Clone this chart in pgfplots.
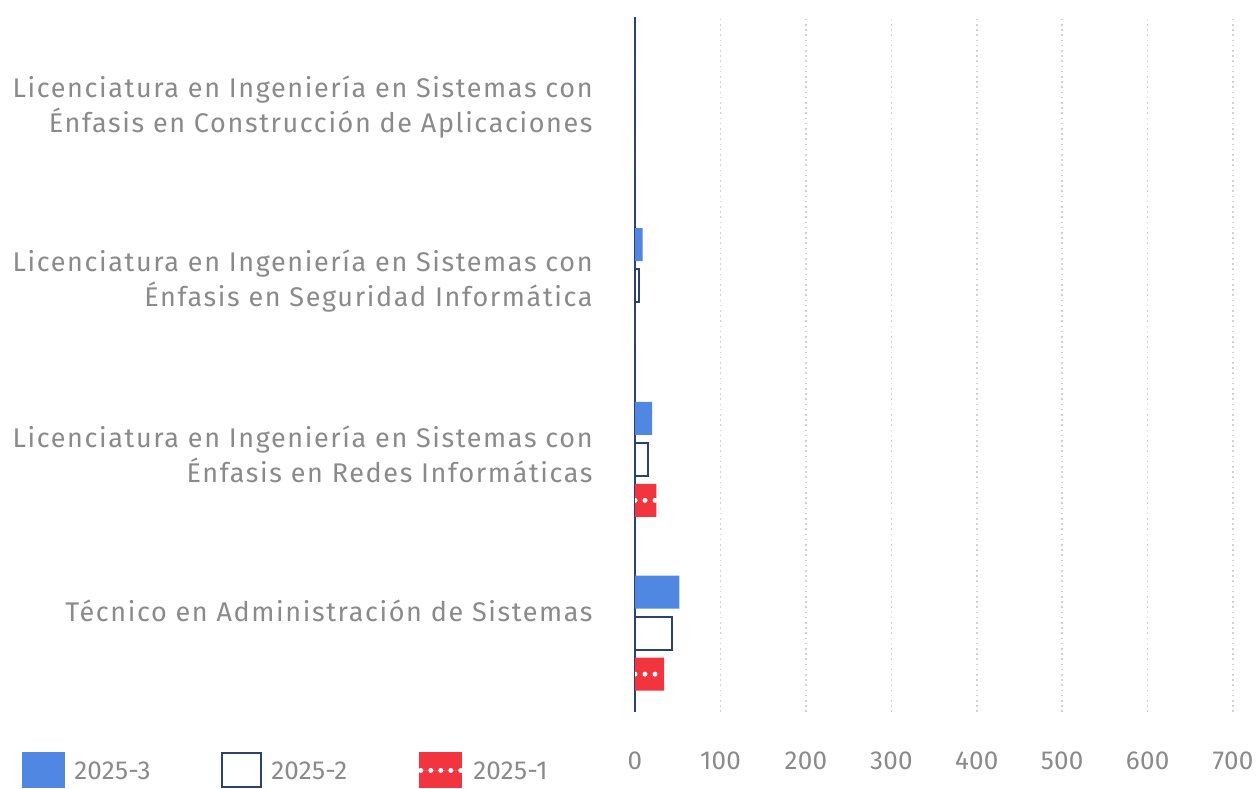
\documentclass[border=0pt]{standalone}
\usepackage{fontspec}
\setmainfont{Fira Sans}[LetterSpace=6]
\usepackage{pgfplots}
\pgfplotsset{compat=1.18}
\definecolor{cblue}{HTML}{5087E3}
\definecolor{cnavy}{HTML}{2B4170}
\definecolor{cred}{HTML}{F2343F}
\definecolor{ctext}{HTML}{8A8A8A}
\definecolor{cgrid}{HTML}{D2D2D2}
\begin{document}
\begin{tikzpicture}
\path[use as bounding box] (0,0) rectangle (628.5pt,394pt);
\begin{axis}[
  at={(317.5pt,38pt)}, anchor=south west,
  scale only axis, width=305pt, height=347.5pt,
  xmin=0, xmax=714, ymin=-0.5, ymax=3.5,
  xbar, bar width=16.5pt,
  axis line style={draw=none},
  major tick length=0pt,
  xtick={100,200,300,400,500,600,700},
  extra x ticks={0}, extra x tick labels={0},
  extra x tick style={grid=major, major grid style={draw=cnavy, line width=1.3pt, solid}},
  xmajorgrids, major grid style={draw=cgrid, line width=0.8pt, dash pattern=on 0.8pt off 1.8pt},
  ytick={0,1,2,3},
  yticklabels={{Técnico en Administración de Sistemas\\\phantom{T}},
    {Licenciatura en Ingeniería en Sistemas con\\Énfasis en Redes Informáticas},
    {Licenciatura en Ingeniería en Sistemas con\\Énfasis en Seguridad Informática},
    {Licenciatura en Ingeniería en Sistemas con\\Énfasis en Construcción de Aplicaciones}},
  yticklabel style={align=right, anchor=east, xshift=-21pt, yshift=-1.5pt, inner sep=0pt, text=ctext, font=\fontsize{13.5}{17.5}\selectfont},
  xticklabel style={anchor=north, yshift=-19.5pt, inner sep=0pt, text=ctext, font=\fontsize{13}{17}\selectfont\addfontfeatures{LetterSpace=1}},
  /pgf/number format/assume math mode=true,
  legend columns=3,
  legend style={at={(-1.005,-0.0576)}, anchor=north west, draw=none, fill=none, inner sep=0pt,
    nodes={inner sep=0pt}, font=\fontsize{13}{17}\selectfont\addfontfeatures{LetterSpace=1}\color{ctext},
    /tikz/every odd column/.append style={column sep=4.5pt}},
  legend cell align=left,
]
\addplot[draw=none, fill=cblue, bar shift=16.5pt,
  legend image code/.code={\fill[cblue] (0pt,-9pt) rectangle (21.5pt,9pt);}]
  coordinates {(52,0) (20,1) (9,2) (0,3)};
\addlegendentry{\makebox[73.5pt][l]{\raisebox{-1.5pt}{2025-3}}}
\addplot[draw=cnavy, fill=white, line width=1pt, bar shift=-4pt,
  legend image code/.code={\draw[cnavy, fill=white, line width=1pt] (0.5pt,-8.5pt) rectangle (20pt,8.5pt);}]
  coordinates {(43,0) (15,1) (5,2) (0,3)};
\addlegendentry{\makebox[73.5pt][l]{\raisebox{-1.5pt}{2025-2}}}
\addplot[draw=none, fill=cred, bar shift=-24.5pt,
  legend image code/.code={\fill[cred] (0pt,-9pt) rectangle (21.5pt,9pt);
    \draw[white, line width=2.5pt, dash pattern=on 0pt off 5pt, line cap=round] (1pt,0) -- (21.5pt,0);}]
  coordinates {(34,0) (25,1) (0,2) (0,3)};
\addlegendentry{\makebox[73.5pt][l]{\raisebox{-1.5pt}{2025-1}}}
\addplot[xcomb, draw=white, line width=2.5pt, dash pattern=on 0pt off 5pt, line cap=round, yshift=-24.5pt, forget plot]
  coordinates {(34,0) (25,1)};
\end{axis}
\end{tikzpicture}
\end{document}
